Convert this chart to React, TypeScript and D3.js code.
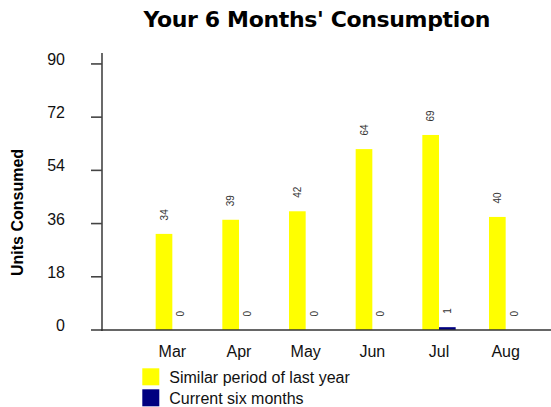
import { useEffect, useRef } from 'react'
import * as d3 from 'd3';

// Chart data
const months = ['Mar', 'Apr', 'May', 'Jun', 'Jul', 'Aug'];
const lastYear = [34, 39, 42, 64, 69, 40];
const current = [0, 0, 0, 0, 1, 0];
const seriesNames = ['Similar period of last year', 'Current six months'];
const seriesColors = ['#ffff00', '#000080'];
const yTicks = [0, 18, 36, 54, 72, 90];

const App = () => {

  const canvas = useRef<SVGSVGElement>(null);

  useEffect(() => {

    const width = 551, height = 407;
    const axisX = 102, baseY = 330, topY = 53;
    const font = 'Arial, "Liberation Sans", Helvetica, sans-serif';

    const svg = d3.select(canvas.current);
    svg.selectAll('*').remove();

    // Scales: ticks and bars are scaled a little differently in the original
    const yAxis = d3.scaleLinear().domain([0, 93.7]).range([baseY, topY]);
    const yBar = d3.scaleLinear().domain([0, 98]).range([baseY, topY]);

    const x = d3.scaleBand()
      .domain(months)
      .range([139, 539])
      .paddingInner(0.5)
      .paddingOuter(0.25);

    const xSeries = d3.scaleBand()
      .domain(['0', '1'])
      .range([0, x.bandwidth()]);

    const rows = months.map((m, i) => ({ month: m, values: [lastYear[i], current[i]] }));

    // Title
    svg.append('text')
      .attr('x', 316.7)
      .attr('y', 27)
      .attr('text-anchor', 'middle')
      .attr('font-family', '"DejaVu Sans", Verdana, sans-serif')
      .attr('font-weight', 'bold')
      .attr('font-size', 22)
      .attr('letter-spacing', -0.35)
      .attr('fill', '#000')
      .text("Your 6 Months' Consumption");

    // Y axis title
    svg.append('text')
      .attr('transform', 'translate(23,212.5) rotate(-90)')
      .attr('text-anchor', 'middle')
      .attr('font-family', font)
      .attr('font-weight', 'bold')
      .attr('font-size', 16)
      .attr('fill', '#000')
      .text('Units Consumed');

    // Bars
    const groups = svg.append('g')
      .selectAll('g')
      .data(rows)
      .join('g')
      .attr('transform', (d) => `translate(${x(d.month)},0)`);

    groups.selectAll('rect')
      .data((d) => d.values)
      .join('rect')
      .attr('x', (d, i) => xSeries(String(i)))
      .attr('width', xSeries.bandwidth())
      .attr('y', (d) => yBar(d))
      .attr('height', (d) => baseY - yBar(d))
      .attr('fill', (d, i) => seriesColors[i]);

    // Value labels
    groups.selectAll('text')
      .data((d) => d.values)
      .join('text')
      .attr('transform', (d, i) =>
        `translate(${xSeries(String(i)) + xSeries.bandwidth() / 2 + 3.5},${yBar(d) - 13.5}) rotate(-90)`)
      .attr('font-family', font)
      .attr('font-size', 10)
      .attr('fill', '#333')
      .text((d) => d);

    // Y axis
    const yg = svg.append('g');
    yg.append('line')
      .attr('x1', axisX).attr('x2', axisX)
      .attr('y1', topY).attr('y2', baseY + 1)
      .attr('stroke', '#444').attr('stroke-width', 1.6);
    yg.selectAll('line.tick')
      .data(yTicks)
      .join('line')
      .attr('class', 'tick')
      .attr('x1', axisX - 11).attr('x2', axisX)
      .attr('y1', (d) => yAxis(d)).attr('y2', (d) => yAxis(d))
      .attr('stroke', '#444').attr('stroke-width', 1.6);
    yg.selectAll('text')
      .data(yTicks)
      .join('text')
      .attr('x', 65)
      .attr('y', (d) => yAxis(d) + 1)
      .attr('text-anchor', 'end')
      .attr('font-family', font)
      .attr('font-size', 16)
      .attr('fill', '#111')
      .text((d) => d);

    // X axis
    svg.append('line')
      .attr('x1', axisX - 1).attr('x2', width)
      .attr('y1', baseY).attr('y2', baseY)
      .attr('stroke', '#333').attr('stroke-width', 1.6);
    svg.append('g')
      .selectAll('text')
      .data(months)
      .join('text')
      .attr('x', (d) => x(d) + x.bandwidth() / 2)
      .attr('y', 356.7)
      .attr('text-anchor', 'middle')
      .attr('font-family', font)
      .attr('font-size', 16)
      .attr('fill', '#111')
      .text((d) => d);

    // Legend
    const legend = svg.append('g')
      .selectAll('g')
      .data(seriesNames)
      .join('g')
      .attr('transform', (d, i) => `translate(142.3,${368.3 + i * 21})`);
    legend.append('rect')
      .attr('width', 17).attr('height', 17)
      .attr('fill', (d, i) => seriesColors[i]);
    legend.append('text')
      .attr('x', 27)
      .attr('y', 15)
      .attr('font-family', font)
      .attr('font-size', 16)
      .attr('fill', '#111')
      .text((d) => d);

    svg.attr('width', width).attr('height', height);

  }, []);

  return (
    <svg ref={canvas} width={551} height={407}
      style={{ position: 'absolute', left: 0, top: 0, background: '#fff' }} />
  );
}

export default App;
